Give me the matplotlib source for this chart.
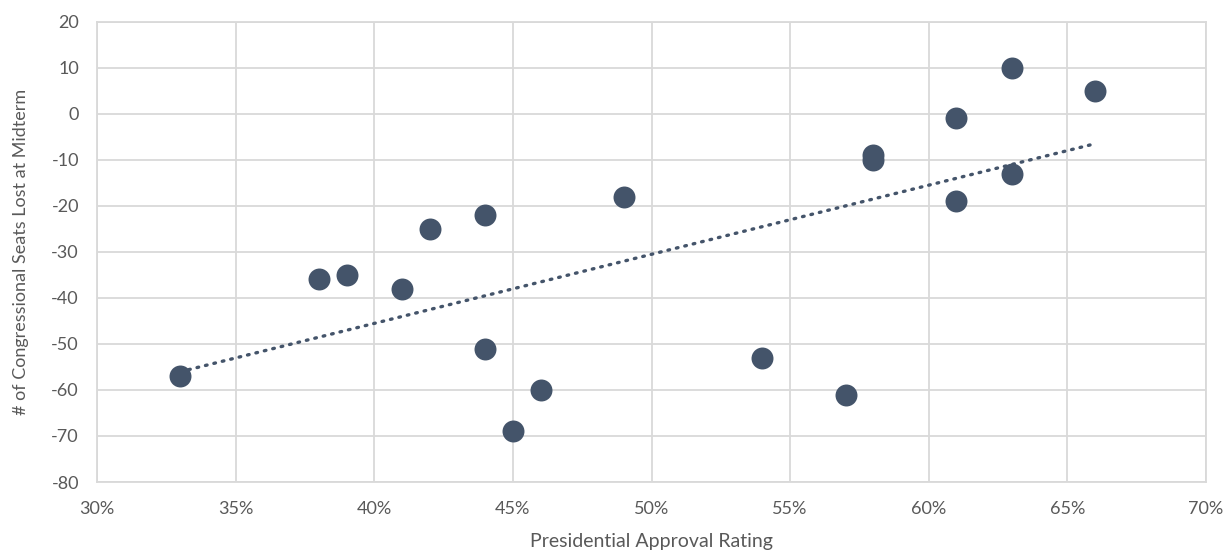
import matplotlib
matplotlib.use("Agg")
import matplotlib.pyplot as plt
from matplotlib.ticker import FuncFormatter
import numpy as np

# approval rating (%) vs. seats lost in the House at midterm
approval = [33, 38, 39, 41, 42, 44, 44, 45, 46, 49, 54, 57, 58, 58, 61, 61, 63, 63, 66]
seats = [-57, -36, -35, -38, -25, -22, -51, -69, -60, -18, -53, -61, -9, -10, -1, -19, 10, -13, 5]

x_ticks = list(range(30, 71, 5))
y_ticks = list(range(-80, 21, 10))

DOT = "#44546a"
GRID = "#d9d9d9"
TEXT = "#595959"

plt.rcParams["font.family"] = ["Lato", "DejaVu Sans"]
plt.rcParams["axes.unicode_minus"] = False

fig = plt.figure(figsize=(12.3, 5.52), dpi=100)
ax = fig.add_axes([0.0789, 0.1268, 0.9016, 0.8339])

ax.scatter(approval, seats, s=250, color=DOT, zorder=3, linewidths=0)

# least-squares trendline over the data range
a = np.array(approval, dtype=float)
slope, icpt = np.polyfit(a, np.array(seats, dtype=float), 1)
tx = np.array([a.min(), a.max()])
ax.plot(tx, slope * tx + icpt, color=DOT, linewidth=2.4, linestyle=(0, (0.5, 2.1)),
        dash_capstyle="round", zorder=2)

ax.set_xlim(30, 70)
ax.set_ylim(-80, 20)
ax.set_xticks(x_ticks)
ax.set_yticks(y_ticks)
ax.xaxis.set_major_formatter(FuncFormatter(lambda v, _: f"{v:.0f}%"))

ax.grid(True, color=GRID, linewidth=1.3, zorder=0)
ax.set_axisbelow(True)
for side in ax.spines.values():
    side.set_color(GRID)
    side.set_linewidth(1.3)
ax.tick_params(length=0, labelsize=13, labelcolor=TEXT)
ax.tick_params(axis="x", pad=14)
ax.tick_params(axis="y", pad=13)

ax.set_xlabel("Presidential Approval Rating", fontsize=14, color=TEXT, labelpad=11)
ax.set_ylabel("# of Congressional Seats Lost at Midterm", fontsize=13, color=TEXT, labelpad=16)

fig.savefig("out.png", dpi=100)
